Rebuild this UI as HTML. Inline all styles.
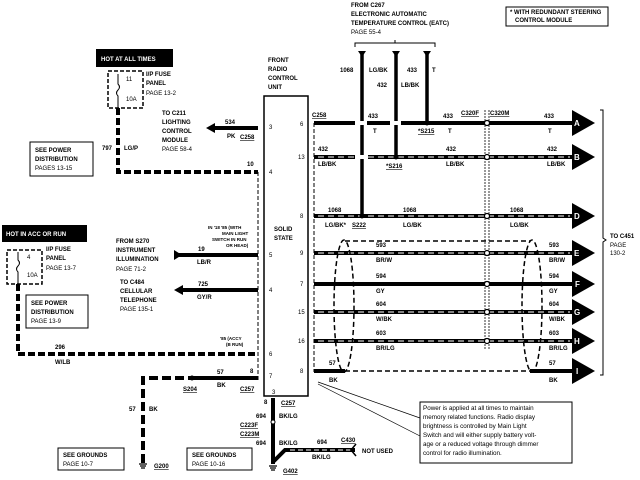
<!DOCTYPE html>
<html><head><meta charset="utf-8"><style>
html,body{margin:0;padding:0;background:#fff;width:640px;height:480px;overflow:hidden}
svg{display:block}
text{font-family:"Liberation Sans",sans-serif;font-size:6px;font-weight:bold;fill:#000}
.n{font-weight:normal}
</style></head><body>
<svg width="640" height="480" viewBox="0 0 640 480" xmlns="http://www.w3.org/2000/svg">
<defs>
<g id="arr"><polygon points="0,-13 23,0 0,13" fill="#000"/></g>
</defs>
<!-- Top text -->
<text x="351" y="7">FROM C267</text>
<text x="351" y="16">ELECTRONIC AUTOMATIC</text>
<text x="351" y="25">TEMPERATURE CONTROL (EATC)</text>
<text x="351" y="34" class="n">PAGE 55-4</text>
<path d="M355,47 v-4 h80 v4 M395,43 v-3" fill="none" stroke="#000" stroke-width="1"/>
<rect x="506" y="7" width="102" height="19" fill="#fff" stroke="#000"/>
<text x="510" y="14">* WITH REDUNDANT STEERING</text>
<text x="515" y="22">CONTROL MODULE</text>

<!-- verticals from top -->
<g stroke="#000" stroke-width="3.5">
<line x1="362" y1="53" x2="362" y2="216"/>
<line x1="396" y1="53" x2="396" y2="157"/>
<line x1="427" y1="53" x2="427" y2="123"/>
</g>
<g fill="#000"><polygon points="358,51 366,51 362,57"/><polygon points="392,51 400,51 396,57"/><polygon points="423,51 431,51 427,57"/></g>
<text x="340" y="72">1068</text><text x="369" y="72">LG/BK</text>
<text x="407" y="72">433</text><text x="432" y="72">T</text>
<text x="377" y="87">432</text><text x="401" y="87">LB/BK</text>

<!-- Radio box -->
<text x="268" y="62">FRONT</text><text x="268" y="71">RADIO</text><text x="268" y="80">CONTROL</text><text x="268" y="89">UNIT</text>
<rect x="264" y="96" width="44" height="300" fill="#fff" stroke="#000" stroke-width="1.5"/>
<text x="274" y="231">SOLID</text><text x="274" y="240">STATE</text>
<g class="n">
<text x="269" y="129" class="n">3</text><text x="269" y="174" class="n">4</text><text x="269" y="257" class="n">5</text><text x="269" y="292" class="n">4</text><text x="269" y="356" class="n">6</text><text x="269" y="378" class="n">7</text><text x="272" y="394" class="n">3</text>
<text x="300" y="126" class="n">6</text><text x="298" y="159" class="n">13</text><text x="300" y="218" class="n">8</text><text x="300" y="255" class="n">9</text><text x="300" y="286" class="n">7</text><text x="298" y="314" class="n">15</text><text x="298" y="343" class="n">16</text><text x="300" y="373" class="n">8</text>
</g>
<!-- dashed verticals beside box -->
<line x1="258" y1="172" x2="258" y2="380" stroke="#000" stroke-width="1" stroke-dasharray="4,2"/>
<line x1="314" y1="123" x2="314" y2="372" stroke="#000" stroke-width="1" stroke-dasharray="4,2"/>

<!-- right wires -->
<g stroke="#000" stroke-width="4">
<line x1="314" y1="123" x2="572" y2="123"/>
<line x1="314" y1="157" x2="572" y2="157"/>
<line x1="314" y1="216" x2="572" y2="216"/>
<line x1="314" y1="253" x2="572" y2="253"/>
<line x1="314" y1="284" x2="572" y2="284"/>
<line x1="314" y1="312" x2="572" y2="312"/>
<line x1="314" y1="341" x2="572" y2="341"/>
<line x1="314" y1="371" x2="345" y2="371"/>
<line x1="530" y1="371" x2="572" y2="371"/>
</g>
<g stroke="#fff" stroke-width="1" stroke-dasharray="6,4">
<line x1="318" y1="157" x2="570" y2="157"/>
<line x1="318" y1="216" x2="570" y2="216"/>
<line x1="318" y1="253" x2="570" y2="253"/>
<line x1="318" y1="312" x2="570" y2="312"/>
<line x1="318" y1="341" x2="570" y2="341"/>
</g>
<g stroke="#fff" stroke-width="4"><line x1="355" y1="123" x2="367" y2="123"/><line x1="390" y1="123" x2="401" y2="123"/><line x1="355" y1="157" x2="368" y2="157"/></g>
<line x1="345" y1="371" x2="530" y2="371" stroke="#000" stroke-width="1.5" stroke-dasharray="5,3"/>
<line x1="345" y1="241" x2="530" y2="241" stroke="#000" stroke-width="1.5" stroke-dasharray="5,3"/>
<ellipse cx="344" cy="306" rx="10" ry="66" fill="none" stroke="#000" stroke-width="1.5" stroke-dasharray="5,3"/>
<ellipse cx="532" cy="306" rx="10" ry="66" fill="none" stroke="#000" stroke-width="1.5" stroke-dasharray="5,3"/>
<!-- C320 connector -->
<line x1="485" y1="110" x2="485" y2="350" stroke="#000" stroke-width="0.8" stroke-dasharray="2,1"/>
<line x1="489" y1="110" x2="489" y2="350" stroke="#000" stroke-width="0.8" stroke-dasharray="2,1"/>
<g fill="#fff" stroke="#000" stroke-width="1.2"><circle cx="487" cy="123" r="2.5"/><circle cx="487" cy="157" r="2.5"/><circle cx="487" cy="216" r="2.5"/><circle cx="487" cy="253" r="2.5"/><circle cx="487" cy="284" r="2.5"/><circle cx="487" cy="312" r="2.5"/><circle cx="487" cy="341" r="2.5"/></g>
<g fill="#000"><circle cx="427" cy="123" r="2.5"/><circle cx="396" cy="157" r="2.5"/><circle cx="362" cy="216" r="2.5"/></g>
<!-- arrows -->
<use href="#arr" x="572" y="123"/><use href="#arr" x="572" y="157"/><use href="#arr" x="572" y="216"/><use href="#arr" x="572" y="253"/><use href="#arr" x="572" y="284"/><use href="#arr" x="572" y="312"/><use href="#arr" x="572" y="341"/><use href="#arr" x="572" y="371"/>
<g style="fill:#fff;font-size:8px"><text x="574" y="126" style="fill:#fff;font-size:8px">A</text><text x="574" y="160" style="fill:#fff;font-size:8px">B</text><text x="574" y="219" style="fill:#fff;font-size:8px">D</text><text x="574" y="256" style="fill:#fff;font-size:8px">E</text><text x="575" y="287" style="fill:#fff;font-size:8px">F</text><text x="574" y="315" style="fill:#fff;font-size:8px">G</text><text x="574" y="344" style="fill:#fff;font-size:8px">H</text><text x="576" y="374" style="fill:#fff;font-size:8px">I</text></g>
<path d="M600,110 h3 v128 l3,2 l-3,2 v133 h-3" fill="none" stroke="#000" stroke-width="1"/>
<text x="610" y="238">TO C451</text><text x="610" y="247" class="n">PAGE</text><text x="610" y="255" class="n">130-2</text>
<!-- right labels -->
<text x="312" y="117" style="text-decoration:underline">C258</text>
<text x="368" y="118">433</text><text x="373" y="133">T</text>
<text x="443" y="118">433</text><text x="448" y="133">T</text>
<text x="461" y="115" style="text-decoration:underline">C320F</text><text x="490" y="115" style="text-decoration:underline">C320M</text>
<text x="544" y="118">433</text><text x="548" y="133">T</text>
<text x="418" y="133" style="text-decoration:underline">*S215</text>
<text x="318" y="151">432</text><text x="318" y="166">LB/BK</text>
<text x="446" y="151">432</text><text x="446" y="166">LB/BK</text>
<text x="547" y="151">432</text><text x="547" y="166">LB/BK</text>
<text x="386" y="168" style="text-decoration:underline">*S216</text>
<text x="328" y="212">1068</text><text x="325" y="227">LG/BK*</text><text x="352" y="227" style="text-decoration:underline">S222</text>
<text x="403" y="212">1068</text><text x="403" y="227">LG/BK</text>
<text x="510" y="212">1068</text><text x="510" y="227">LG/BK</text>
<text x="376" y="247">593</text><text x="376" y="262">BR/W</text><text x="549" y="247">593</text><text x="549" y="262">BR/W</text>
<text x="376" y="278">594</text><text x="376" y="293">GY</text><text x="549" y="278">594</text><text x="549" y="293">GY</text>
<text x="376" y="306">604</text><text x="376" y="321">W/BK</text><text x="549" y="306">604</text><text x="549" y="321">W/BK</text>
<text x="376" y="335">603</text><text x="376" y="350">BR/LG</text><text x="549" y="335">603</text><text x="549" y="350">BR/LG</text>
<text x="329" y="365">57</text><text x="329" y="382">BK</text><text x="549" y="365">57</text><text x="549" y="382">BK</text>

<!-- Note -->
<path d="M318,382 L420,418 M318,384 L420,436" stroke="#000" stroke-width="0.7" fill="none"/>
<rect x="420" y="402" width="152" height="61" fill="#fff" stroke="#000" stroke-width="1"/>
<g class="n" style="font-size:6.3px">
<text x="423" y="410" class="n" style="font-size:6.3px">Power is applied at all times to maintain</text>
<text x="423" y="419" class="n" style="font-size:6.3px">memory related functions.  Radio display</text>
<text x="423" y="428" class="n" style="font-size:6.3px">brightness is controlled by Main Light</text>
<text x="423" y="437" class="n" style="font-size:6.3px">Switch and will either supply battery volt-</text>
<text x="423" y="446" class="n" style="font-size:6.3px">age or a reduced voltage through dimmer</text>
<text x="423" y="455" class="n" style="font-size:6.3px">control for radio illumination.</text>
</g>

<!-- Left top -->
<rect x="96" y="49" width="77" height="18" fill="#000"/>
<text x="101" y="61" style="fill:#fff">HOT AT ALL TIMES</text>
<rect x="108" y="71" width="35" height="37" fill="none" stroke="#000" stroke-width="1.5" stroke-dasharray="4,2"/>
<text x="126" y="81" class="n">11</text><text x="126" y="101" class="n">10A</text>
<path d="M118,74 v10 q3,3 0,6 q-3,3 0,6 v12" fill="none" stroke="#000" stroke-width="1"/>
<text x="146" y="76">I/P FUSE</text><text x="146" y="85">PANEL</text><text x="146" y="95" class="n">PAGE 13-2</text>
<path d="M118,108 V172 H258" fill="none" stroke="#000" stroke-width="4" stroke-dasharray="7,3"/>
<text x="102" y="150">797</text><text x="124" y="150">LG/P</text>
<rect x="30" y="142" width="63" height="34" fill="#fff" stroke="#000"/>
<text x="35" y="152">SEE POWER</text><text x="35" y="161">DISTRIBUTION</text><text x="35" y="170" class="n">PAGES 13-15</text>
<text x="162" y="115">TO C211</text><text x="162" y="124">LIGHTING</text><text x="162" y="133">CONTROL</text><text x="162" y="142">MODULE</text><text x="162" y="151" class="n">PAGE 58-4</text>
<line x1="214" y1="128" x2="258" y2="128" stroke="#000" stroke-width="4"/>
<polygon points="206,128 215,123 215,133" fill="#000"/>
<text x="225" y="124">534</text><text x="227" y="138">PK</text><text x="240" y="139" style="text-decoration:underline">C258</text>
<text x="247" y="166">10</text>

<!-- Left mid -->
<rect x="2" y="225" width="85" height="17" fill="#000"/>
<text x="6" y="236" style="fill:#fff">HOT IN ACC OR RUN</text>
<rect x="7" y="250" width="35" height="34" fill="none" stroke="#000" stroke-width="1.5" stroke-dasharray="4,2"/>
<path d="M18,252 v8 q3,3 0,6 q-3,3 0,6 v12" fill="none" stroke="#000" stroke-width="1"/>
<text x="27" y="259" class="n">4</text><text x="27" y="277" class="n">10A</text>
<text x="46" y="251">I/P FUSE</text><text x="46" y="260">PANEL</text><text x="46" y="270" class="n">PAGE 13-7</text>
<path d="M18,284 V354 H258" fill="none" stroke="#000" stroke-width="4" stroke-dasharray="7,3"/>
<rect x="26" y="295" width="62" height="33" fill="#fff" stroke="#000"/>
<text x="31" y="305">SEE POWER</text><text x="31" y="314">DISTRIBUTION</text><text x="31" y="323" class="n">PAGE 13-9</text>
<text x="55" y="349">296</text><text x="55" y="364">W/LB</text>
<text x="220" y="340" style="font-size:4.5px">'85 (ACCY</text><text x="226" y="346" style="font-size:4.5px">(B RUN)</text>
<text x="116" y="243">FROM S270</text><text x="116" y="252">INSTRUMENT</text><text x="116" y="261">ILLUMINATION</text><text x="116" y="271" class="n">PAGE 71-2</text>
<line x1="178" y1="255" x2="258" y2="255" stroke="#000" stroke-width="4"/>
<path d="M174,250 L182,255 L174,260" fill="#000"/>
<text x="198" y="251">19</text><text x="197" y="264">LB/R</text>
<text x="208" y="229" style="font-size:4.5px">IN '18 '85 (WITH</text><text x="222" y="235" style="font-size:4.5px">MAIN LIGHT</text><text x="212" y="241" style="font-size:4.5px">SWITCH IN RUN</text><text x="226" y="247" style="font-size:4.5px">OR HEAD)</text>
<text x="120" y="284">TO C484</text><text x="120" y="293">CELLULAR</text><text x="120" y="302">TELEPHONE</text><text x="120" y="311" class="n">PAGE 135-1</text>
<line x1="182" y1="290" x2="258" y2="290" stroke="#000" stroke-width="4"/>
<polygon points="174,290 183,285 183,295" fill="#000"/>
<text x="198" y="286">725</text><text x="197" y="299">GY/R</text>

<!-- ground 57 -->
<path d="M143,463 V378 H190" fill="none" stroke="#000" stroke-width="4" stroke-dasharray="9,4"/>
<line x1="190" y1="378" x2="258" y2="378" stroke="#000" stroke-width="4"/>
<circle cx="192" cy="378" r="2.5" fill="#000"/>
<text x="217" y="374">57</text><text x="217" y="387">BK</text><text x="250" y="373">8</text>
<text x="183" y="391" style="text-decoration:underline">S204</text>
<text x="240" y="391" style="text-decoration:underline">C257</text>
<text x="129" y="411">57</text><text x="149" y="411">BK</text>
<path d="M139,464 h8 M140,466 h6 M141,468 h4" stroke="#000" stroke-width="1.2"/>
<text x="154" y="468" style="text-decoration:underline">G200</text>
<rect x="58" y="448" width="66" height="22" fill="#fff" stroke="#000"/>
<text x="63" y="457">SEE GROUNDS</text><text x="63" y="466" class="n">PAGE 10-7</text>
<rect x="187" y="448" width="65" height="22" fill="#fff" stroke="#000"/>
<text x="192" y="457">SEE GROUNDS</text><text x="192" y="466" class="n">PAGE 10-16</text>

<!-- bottom ground 694 -->
<line x1="273" y1="398" x2="273" y2="464" stroke="#000" stroke-width="4"/>
<path d="M273,462 L285,450 H355" fill="none" stroke="#000" stroke-width="4"/>
<line x1="290" y1="450" x2="352" y2="450" stroke="#fff" stroke-width="1" stroke-dasharray="5,3"/>
<path d="M356,444 L351,450 L356,456" fill="none" stroke="#000" stroke-width="1.5"/>
<circle cx="273" cy="422" r="2" fill="#fff" stroke="#000"/>
<text x="264" y="404">8</text><text x="281" y="405" style="text-decoration:underline">C257</text>
<text x="256" y="418">694</text><text x="279" y="418">BK/LG</text>
<text x="240" y="427" style="text-decoration:underline">C223F</text><text x="240" y="436" style="text-decoration:underline">C223M</text>
<text x="256" y="445">694</text><text x="279" y="445">BK/LG</text>
<text x="317" y="444">694</text><text x="312" y="459">BK/LG</text>
<text x="341" y="442" style="text-decoration:underline">C430</text>
<text x="362" y="453">NOT USED</text>
<path d="M269,466 h8 M270,468 h6 M271,470 h4" stroke="#000" stroke-width="1.2"/>
<text x="283" y="473" style="text-decoration:underline">G402</text>
</svg>
</body></html>
